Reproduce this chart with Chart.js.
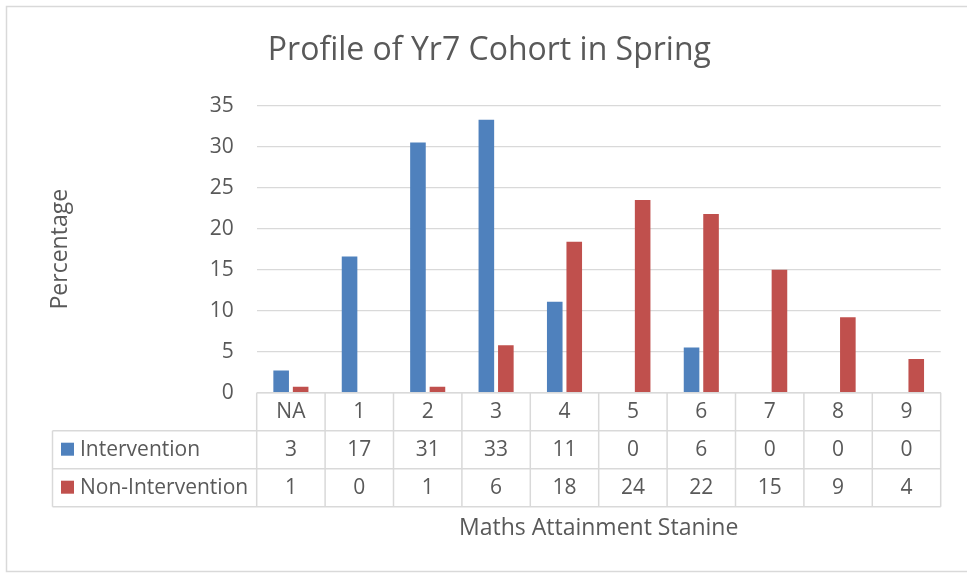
<!DOCTYPE html>
<html>
<head>
<meta charset="utf-8">
<title>Profile of Yr7 Cohort in Spring</title>
<script src="https://cdn.jsdelivr.net/npm/chart.js@4/dist/chart.umd.min.js"></script>
<style>
    body { margin: 0; background: #ffffff; }
    #wrap { width: 967px; height: 578px; position: relative; }
</style>
</head>
<body>
<div id="wrap"><canvas id="chartCanvas"></canvas></div>
<script>
// chart data
const stanines = ['NA', '1', '2', '3', '4', '5', '6', '7', '8', '9'];
const intervention = [2.7, 16.6, 30.5, 33.3, 11.1, 0, 5.5, 0, 0, 0];
const nonIntervention = [0.73, 0, 0.73, 5.8, 18.4, 23.5, 21.8, 15.0, 9.2, 4.1];
const yTicks = [0, 5, 10, 15, 20, 25, 30, 35];

const textColor = '#595959';
const lineColor = '#d9d9d9';
const fontFamily = "'Open Sans', sans-serif";

// frame around the whole chart
const framePlugin = {
    id: 'frame',
    beforeDraw(chart) {
        const ctx = chart.ctx;
        ctx.save();
        ctx.strokeStyle = lineColor;
        ctx.lineWidth = 1.5;
        ctx.strokeRect(6.5, 6.5, chart.width + 10, chart.height - 13);
        ctx.restore();
    }
};

// data table drawn under the plot, lined up with the x scale
const dataTablePlugin = {
    id: 'dataTable',
    afterDraw(chart) {
        const ctx = chart.ctx;
        const x = chart.scales.x;
        const area = chart.chartArea;
        const half = (x.getPixelForValue(1) - x.getPixelForValue(0)) / 2;
        const rowH = 38;
        const top = area.bottom;
        const legendLeft = 52.5;
        const left = x.getPixelForValue(0) - half;
        const right = x.getPixelForValue(stanines.length - 1) + half;

        ctx.save();
        ctx.strokeStyle = lineColor;
        ctx.lineWidth = 1.5;
        ctx.beginPath();
        ctx.moveTo(left, top);
        ctx.lineTo(right, top);
        for (let r = 1; r <= 3; r++) {
            ctx.moveTo(legendLeft, top + rowH * r);
            ctx.lineTo(right, top + rowH * r);
        }
        for (let i = 0; i <= stanines.length; i++) {
            const px = left + half * 2 * i;
            ctx.moveTo(px, top);
            ctx.lineTo(px, top + rowH * 3);
        }
        ctx.moveTo(legendLeft, top + rowH);
        ctx.lineTo(legendLeft, top + rowH * 3);
        ctx.stroke();

        ctx.fillStyle = textColor;
        ctx.font = '21px ' + fontFamily;
        ctx.textAlign = 'center';
        ctx.textBaseline = 'middle';
        stanines.forEach((label, i) => {
            const cx = x.getPixelForValue(i);
            ctx.fillText(label, cx, top + rowH * 0.5);
            ctx.fillText(String(Math.round(intervention[i])), cx, top + rowH * 1.5);
            ctx.fillText(String(Math.round(nonIntervention[i])), cx, top + rowH * 2.5);
        });

        chart.data.datasets.forEach((ds, d) => {
            const cy = top + rowH * (d + 1.5);
            ctx.fillStyle = ds.backgroundColor;
            ctx.fillRect(61, cy - 7, 13, 13);
            ctx.fillStyle = textColor;
            ctx.textAlign = 'left';
            ctx.fillText(ds.label, 80, cy);
        });
        ctx.restore();
    }
};

const ctx = document.getElementById('chartCanvas').getContext('2d');
new Chart(ctx, {
    type: 'bar',
    data: {
        labels: stanines,
        datasets: [{
            label: 'Intervention',
            data: intervention,
            backgroundColor: '#4f81bd',
            categoryPercentage: 0.57,
            barPercentage: 0.8
        }, {
            label: 'Non-Intervention',
            data: nonIntervention,
            backgroundColor: '#c0504d',
            categoryPercentage: 0.57,
            barPercentage: 0.8
        }]
    },
    options: {
        responsive: true,
        maintainAspectRatio: false,
        animation: false,
        layout: {
            padding: { left: 38, right: 26.3, top: 0, bottom: 0 }
        },
        plugins: {
            legend: { display: false },
            tooltip: { enabled: false },
            title: {
                display: true,
                text: 'Profile of Yr7 Cohort in Spring',
                color: textColor,
                font: { family: fontFamily, size: 32, weight: 'normal' },
                padding: { top: 31.4, bottom: 35.9 }
            }
        },
        scales: {
            x: {
                grid: { display: false },
                border: { display: false },
                ticks: { display: false },
                title: {
                    display: true,
                    text: 'Maths Attainment Stanine',
                    color: textColor,
                    font: { family: fontFamily, size: 23 },
                    padding: { top: 4, bottom: 35.8 }
                },
                afterFit(scale) { scale.height = 185.3; }
            },
            y: {
                min: 0,
                max: 35,
                afterBuildTicks(scale) { scale.ticks = yTicks.map(v => ({ value: v })); },
                grid: { color: lineColor, lineWidth: 1.3, drawTicks: false },
                border: { display: false },
                ticks: {
                    color: textColor,
                    padding: 23,
                    font: { family: fontFamily, size: 21 }
                },
                title: {
                    display: true,
                    text: 'Percentage',
                    color: textColor,
                    font: { family: fontFamily, size: 23 },
                    padding: { top: 8.3, bottom: 4 }
                },
                afterFit(scale) { scale.width = 218.7; }
            }
        }
    },
    plugins: [framePlugin, dataTablePlugin]
});
</script>
</body>
</html>
